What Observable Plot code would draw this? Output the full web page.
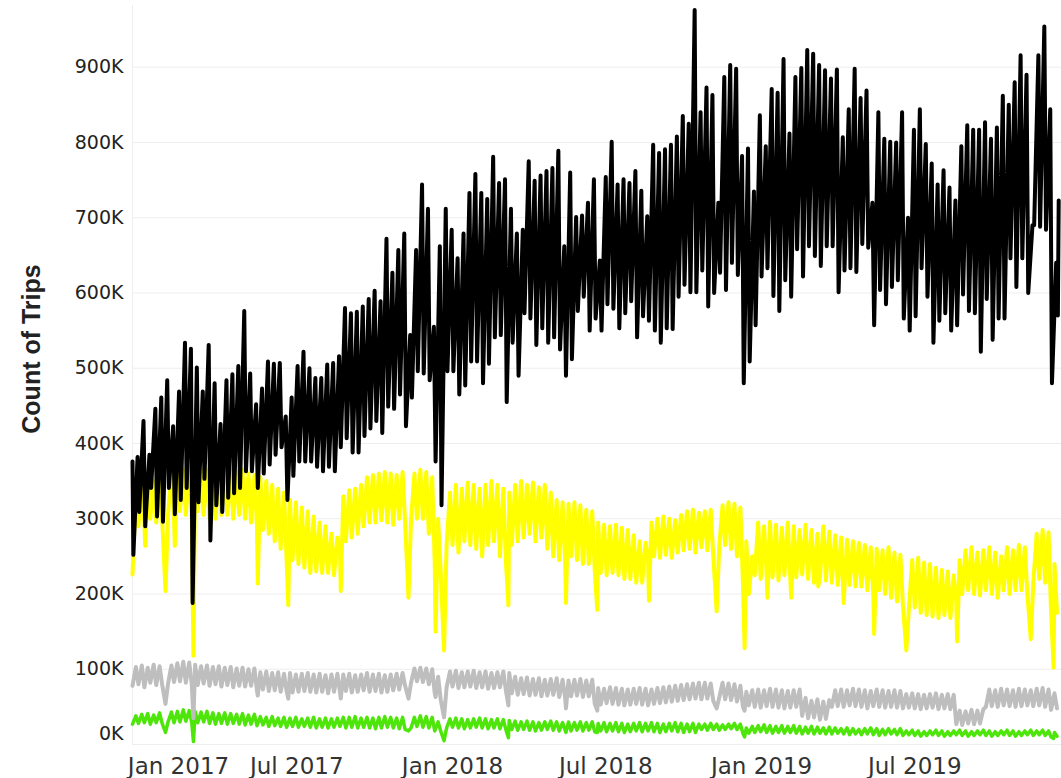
<!DOCTYPE html>
<html>
<head>
<meta charset="utf-8">
<script src="https://cdn.jsdelivr.net/npm/d3@7"></script>
<script src="https://cdn.jsdelivr.net/npm/@observablehq/plot@0.6"></script>
<style>
  html, body { margin: 0; padding: 0; background: #ffffff; }
</style>
</head>
<body>
<div id="chart"></div>
<script>
// ---------- DATA (daily trips, in thousands; read as weekly highs/lows + special days) ----------
// Week i starts on Sunday 2017-01-01 + 7*i
const yTickValues = [0, 100000, 200000, 300000, 400000, 500000, 600000, 700000, 800000, 900000];
const xTickDates = ["2017-01-01", "2017-07-01", "2018-01-01", "2018-07-01", "2019-01-01", "2019-07-01"];
const yAxisTitle = "Count of Trips";

// Black series (weekly Saturday highs, Monday lows)
const blackHigh = [382,430,385,446,461,484,423,469,534,526,
501,469,531,480,426,484,492,503,576,493,
452,473,509,506,507,436,461,503,522,500,
487,487,505,507,516,580,573,575,582,592,
603,589,672,627,657,679,544,657,744,712,
555,662,712,684,646,679,733,758,733,725,
781,746,751,712,679,684,775,749,756,762,
766,789,662,760,701,703,720,751,643,754,
801,744,751,746,762,736,702,797,786,791,
797,808,835,825,976,840,873,863,720,887,
903,898,782,792,735,836,795,871,866,911,
812,887,899,923,918,903,896,885,897,807,
844,898,859,869,720,840,805,801,800,840,
700,817,844,798,772,744,763,740,723,795,
823,817,817,827,805,820,862,850,880,916,
890,690,916,954,844,640];
const blackLow = [252,309,290,341,303,296,341,306,325,341,
188,322,353,271,318,309,328,334,341,363,
363,341,360,372,385,395,325,357,376,376,
376,369,363,369,363,395,407,388,388,410,
420,430,414,449,446,465,423,461,496,493,
484,376,318,496,496,465,477,509,509,480,
506,541,544,455,534,490,573,566,531,553,
534,541,525,490,512,576,595,550,566,550,
585,579,553,573,589,541,569,563,550,534,
553,552,595,611,601,601,630,582,600,627,
604,640,624,480,509,557,622,633,596,576,
617,595,658,622,662,649,636,662,662,601,
630,633,628,665,660,557,604,585,608,617,
566,550,569,633,595,534,563,573,550,557,
598,576,573,522,592,538,566,566,646,608,
646,600,690,688,684,480,570];
const blackSpecial = [["2017-01-01", 376], ["2019-12-31", 723]];

// Yellow series (weekly Thursday highs, Sunday lows)
const yellowHigh = [335,350,355,350,360,355,365,360,365,368,
360,365,365,360,360,368,365,362,365,360,
358,355,350,345,340,335,325,322,315,310,
303,295,290,280,275,330,338,340,345,355,
358,360,362,360,358,362,350,360,365,362,
355,300,270,335,345,340,348,345,340,345,
350,345,340,335,345,350,345,348,342,345,
335,325,322,320,322,318,312,310,295,292,
290,292,288,285,278,270,268,295,300,303,
300,298,305,310,312,308,310,312,300,318,
322,320,315,270,250,295,290,296,292,288,
295,290,285,292,285,280,290,283,278,275,
272,270,268,265,262,260,258,262,255,252,
240,245,248,242,240,235,232,230,225,245,
258,262,255,258,262,255,250,262,258,265,
262,250,280,285,282,240];
const yellowLow = [226,290,295,300,295,300,305,300,310,305,
300,310,305,300,300,305,305,300,305,300,
295,290,285,280,270,260,245,245,240,235,
228,230,228,228,225,260,270,275,280,290,
295,295,298,295,292,300,295,298,300,300,
280,240,230,265,265,255,270,265,260,250,
265,270,250,245,265,270,275,280,270,275,
260,250,245,245,250,245,240,240,230,228,
225,228,225,220,220,215,215,245,250,248,
252,248,255,258,260,255,262,258,250,262,
265,260,250,215,200,225,220,226,222,218,
225,220,222,226,220,215,222,218,215,212,
215,212,210,210,205,200,205,200,195,190,
185,180,182,175,172,170,168,172,168,190,
200,205,200,198,205,200,195,205,200,205,
205,200,215,220,215,175,175];
const yellowSpecial = [["2017-01-16",264],["2017-02-09",204],["2017-02-20",264],["2017-03-14",118],
["2017-05-29",214],["2017-07-04",185],["2017-09-04",204],["2017-11-23",195],["2017-12-25",150],
["2018-01-04",125],["2018-03-21",185],["2018-05-28",188],["2018-07-04",179],["2018-09-03",191],
["2018-11-22",177],["2018-12-25",128],["2019-01-21",195],["2019-02-18",195],["2019-03-22",210],
["2019-04-21",188],["2019-05-27",147],["2019-07-04",125],["2019-09-02",137],["2019-11-28",140],
["2019-12-25",102]];

// Gray series
const grayHigh = [103,105,102,106,104,107,105,108,110,109,
106,104,105,103,104,102,103,101,102,100,
101,96,97,95,96,94,95,93,94,95,
93,94,92,93,94,93,94,92,93,95,
93,94,92,93,94,95,98,101,102,101,
100,90,92,97,98,96,97,98,96,97,
95,96,97,95,90,88,89,87,88,86,
87,88,86,85,86,87,85,86,75,74,
76,75,74,73,74,75,74,73,75,76,
77,78,79,80,81,82,82,81,80,82,
81,80,78,70,72,73,72,74,73,72,
71,72,73,62,58,60,57,59,72,73,
72,74,73,72,71,73,72,71,72,71,
67,68,67,66,67,68,66,67,66,45,
44,46,45,47,73,72,74,73,72,74,
73,72,74,75,73,68];
const grayLow = [78,80,76,82,79,80,81,83,84,82,
80,79,81,78,80,77,79,76,78,77,
78,72,73,71,72,70,71,69,70,71,
70,69,70,68,70,70,71,69,70,72,
70,71,69,70,72,73,78,82,84,83,
80,68,60,76,77,75,76,77,75,76,
74,75,76,72,68,66,67,65,66,64,
65,66,63,62,64,65,63,64,54,53,
55,54,53,52,53,54,53,52,54,55,
56,57,58,59,60,61,60,61,58,62,
60,59,57,50,52,50,49,51,50,49,
48,49,50,38,35,36,33,34,50,51,
50,52,51,50,48,51,50,49,50,49,
48,49,48,47,48,49,47,48,47,27,
26,28,27,28,50,51,50,52,51,50,
51,52,51,52,50,46,48];
const graySpecial = [["2017-02-09",54],["2017-03-14",35],["2017-05-29",65],["2017-07-04",61],
["2017-09-04",61],["2017-11-23",61],["2017-12-25",63],["2018-01-04",36],["2018-03-21",52],
["2018-05-28",48],["2018-07-04",45],["2018-11-22",48],["2018-12-25",45]];

// Green series
const greenHigh = [38,40,41,39,42,41,43,44,46,45,
44,43,44,42,41,42,41,40,41,39,
40,37,36,37,35,36,35,36,34,35,
36,34,35,34,35,36,36,37,35,36,
35,36,37,36,35,36,34,36,38,37,
36,30,30,34,35,34,33,34,35,34,
33,34,33,32,31,30,31,30,29,30,
31,30,29,30,29,30,29,30,28,29,
28,29,28,27,28,29,28,29,28,27,
28,29,28,27,28,27,27,28,27,26,
27,28,27,22,24,25,26,25,24,25,
24,25,24,23,24,23,22,23,22,21,
22,21,20,21,22,21,20,21,20,21,
18,19,18,17,18,19,18,17,18,19,
18,17,18,19,18,17,18,19,18,17,
18,19,18,19,18,16];
const greenLow = [27,28,29,27,29,28,30,29,30,31,
29,29,30,28,27,28,27,28,27,26,
27,25,26,24,25,24,23,24,23,24,
23,22,23,22,23,24,22,23,22,23,
22,21,22,23,22,21,20,22,24,23,
22,18,18,22,23,22,21,22,23,22,
21,22,21,20,20,19,20,19,18,19,
20,19,18,19,18,19,18,19,17,18,
17,18,17,16,17,18,17,18,17,16,
17,18,17,16,17,16,20,19,20,19,
20,21,20,15,15,16,17,16,15,16,
15,16,15,14,15,14,15,14,14,15,
14,13,14,13,14,13,12,13,14,13,
12,13,12,11,12,13,12,11,12,13,
12,11,12,13,12,11,12,13,12,11,
12,13,12,13,12,10,11];
const greenSpecial = [["2017-02-09",16],["2017-03-14",4],["2017-11-23",18],["2018-01-04",5],
["2018-03-21",9],["2018-05-28",16],["2018-07-04",16],["2018-12-25",10],["2019-12-25",8]];

// ---------- BUILD ----------
const DAY = 86400000;
const t0 = Date.UTC(2017, 0, 1);
const tEnd = Date.UTC(2019, 11, 31);
function build(high, low, special, lowOff, highOff) {
  const m = new Map();
  low.forEach((v, i) => m.set(7 * i + lowOff, v));
  high.forEach((v, i) => m.set(7 * i + highOff, v));
  special.forEach(([s, v]) => m.set(Math.round((Date.parse(s) - t0) / DAY), v));
  return [...m]
    .filter(([d]) => d >= 0 && t0 + d * DAY <= tEnd)
    .sort((a, b) => a[0] - b[0])
    .map(([d, v]) => ({date: new Date(t0 + d * DAY), value: v * 1000}));
}
const black = build(blackHigh, blackLow, blackSpecial, 1, 6);
const yellow = build(yellowHigh, yellowLow, yellowSpecial, 0, 4);
const gray = build(grayHigh, grayLow, graySpecial, 0, 4);
const green = build(greenHigh, greenLow, greenSpecial, 0, 4);
const xTicks = xTickDates.map(s => new Date(Date.parse(s)));

const fmtK = d => `${d / 1000}K`;
const fmtDate = d3.utcFormat("%b %Y");

const chart = Plot.plot({
  width: 1061,
  height: 778,
  marginLeft: 132,
  marginRight: 0,
  marginTop: 5,
  marginBottom: 34,
  style: {background: "#ffffff", fontFamily: "DejaVu Sans", color: "#222"},
  x: {type: "utc", domain: [new Date(t0), new Date(t0 + 1097.3 * DAY)]},
  y: {domain: [0, 982000]},
  marks: [
    Plot.gridY(yTickValues, {stroke: "#eeeeee", strokeOpacity: 1, strokeWidth: 1}),
    Plot.ruleX([new Date(t0)], {stroke: "#eeeeee", strokeWidth: 1}),
    Plot.lineY(green, {x: "date", y: "value", stroke: "#4ee60a", strokeWidth: 3.5}),
    Plot.lineY(gray, {x: "date", y: "value", stroke: "#bebebe", strokeWidth: 4}),
    Plot.lineY(yellow, {x: "date", y: "value", stroke: "#ffff00", strokeWidth: 4}),
    Plot.lineY(black, {x: "date", y: "value", stroke: "#000000", strokeWidth: 4}),
    Plot.axisY(yTickValues.slice(1), {tickSize: 0, tickPadding: 9, tickFormat: fmtK, label: null, fontSize: 19, fill: "#222"}),
    Plot.axisY([0], {tickSize: 0, tickPadding: 9, tickFormat: fmtK, label: null, fontSize: 19, fill: "#222", dy: -11}),
    Plot.axisX(xTicks.slice(1), {tickSize: 0, tickPadding: 13.5, tickFormat: fmtDate, label: null, fontSize: 23, fill: "#333", dx: 11}),
    Plot.axisX([xTicks[0]], {tickSize: 0, tickPadding: 13.5, tickFormat: fmtDate, label: null, fontSize: 23, fill: "#333", dx: 46}),
    Plot.text([yAxisTitle], {frameAnchor: "left", textAnchor: "middle", rotate: -90, dx: -101, dy: -26,
      fontWeight: "bold", fontSize: 25, fontFamily: "Liberation Sans", fill: "#222"})
  ]
});
document.getElementById("chart").appendChild(chart);
</script>
</body>
</html>
